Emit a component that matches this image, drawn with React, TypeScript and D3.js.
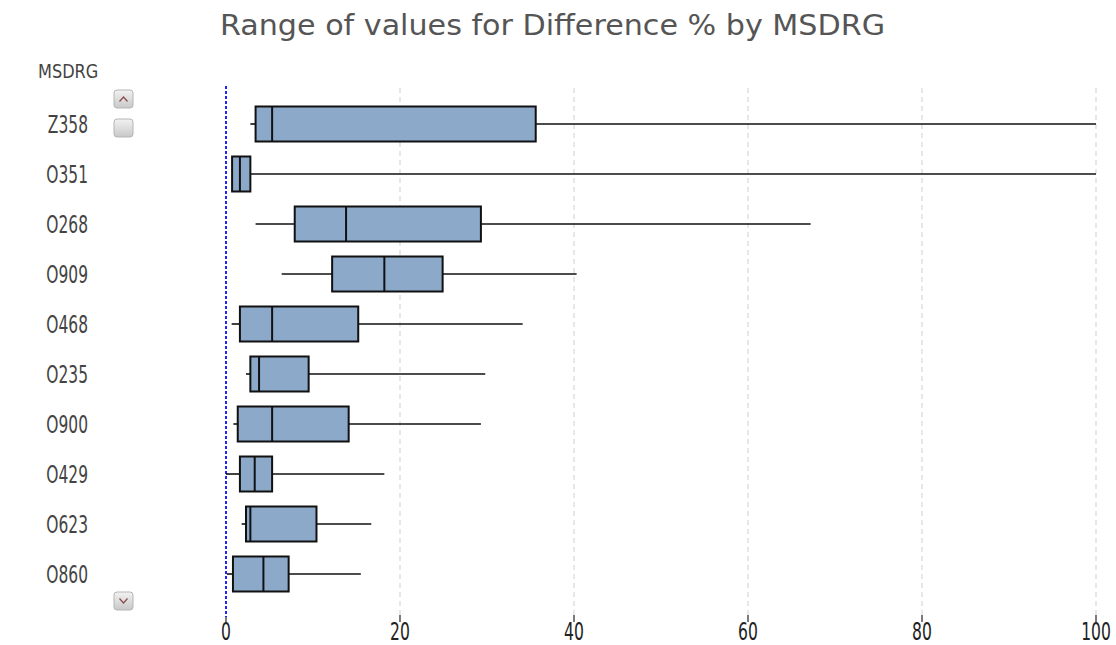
import React from 'react';
import * as d3 from 'd3';

// values (Difference %)
const categories = ['Z358', 'O351', 'O268', 'O909', 'O468', 'O235', 'O900', 'O429', 'O623', 'O860'];
const minValues = [2.8, 0.7, 3.4, 6.4, 0.65, 2.3, 0.85, 0.0, 1.8, 0.1];
const q1Values = [3.4, 0.7, 7.9, 12.2, 1.6, 2.8, 1.35, 1.6, 2.3, 0.8];
const medianValues = [5.3, 1.6, 13.8, 18.2, 5.3, 3.8, 5.3, 3.3, 2.8, 4.3];
const q3Values = [35.6, 2.8, 29.3, 24.9, 15.2, 9.5, 14.1, 5.3, 10.4, 7.2];
const maxValues = [100, 100, 67.2, 40.3, 34.1, 29.8, 29.3, 18.2, 16.7, 15.5];
const xTicks = [0, 20, 40, 60, 80, 100];

const W = 1116;
const H = 645;
const TITLE_FONT = '"DejaVu Sans", Verdana, sans-serif';
const FONT = '"DejaVu Sans", sans-serif';

export default function App() {
  const x = d3.scaleLinear().domain([0, 100]).range([226, 1096]);
  const y = d3.scaleBand<string>().domain(categories).range([99, 599]).paddingInner(0.3).paddingOuter(0.15);
  const gridTop = 88;
  const gridBottom = 615;

  const rows = categories.map((c, i) => ({
    c,
    min: minValues[i],
    q1: q1Values[i],
    med: medianValues[i],
    q3: q3Values[i],
    max: maxValues[i],
  }));

  return (
    <svg width={W} height={H} style={{ position: 'absolute', left: 0, top: 0, background: '#fff' }}>
      <defs>
        <linearGradient id="btn" x1="0" y1="0" x2="0" y2="1">
          <stop offset="0" stopColor="#f2f2f2" />
          <stop offset="1" stopColor="#c8c8c8" />
        </linearGradient>
      </defs>

      <text x={220} y={35} fill="#555" fontFamily={TITLE_FONT} fontSize={28} textLength={665} lengthAdjust="spacingAndGlyphs">
        Range of values for Difference % by MSDRG
      </text>

      <text transform="translate(38,78) scale(0.95,1.15)" fill="#444" fontFamily={FONT} fontSize={17}>MSDRG</text>

      {/* grid */}
      {xTicks.filter(t => t > 0).map(t => (
        <g key={t}>
          <line x1={x(t)} x2={x(t)} y1={gridTop} y2={gridBottom} stroke="#d8d8d8" strokeWidth={1.2} strokeDasharray="5,4" />
          <line x1={x(t)} x2={x(t)} y1={gridBottom} y2={622} stroke="#222" strokeWidth={1.2} />
        </g>
      ))}
      <line x1={x(0)} x2={x(0)} y1={86} y2={617} stroke="#2222ff" strokeWidth={2} strokeDasharray="3,2" />
      <line x1={x(0)} x2={x(0)} y1={617} y2={622} stroke="#222" strokeWidth={1.2} />

      {xTicks.map(t => (
        <text key={t} transform={`translate(${x(t)},640) scale(0.82,1.3)`} textAnchor="middle" fill="#222" fontFamily={FONT} fontSize={19}>{t}</text>
      ))}

      {/* boxes */}
      {rows.map(r => {
        const top = y(r.c)!;
        const h = y.bandwidth();
        const cy = top + h / 2;
        return (
          <g key={r.c}>
            <text transform={`translate(88,${cy + 9}) scale(0.86,1.35)`} textAnchor="end" fill="#444" fontFamily={FONT} fontSize={18}>{r.c}</text>
            <line x1={x(r.min)} x2={x(r.q1)} y1={cy} y2={cy} stroke="#111" strokeWidth={1.6} />
            <line x1={x(r.q3)} x2={x(r.max)} y1={cy} y2={cy} stroke="#111" strokeWidth={1.6} />
            <rect x={x(r.q1)} y={top} width={x(r.q3) - x(r.q1)} height={h} fill="#8ca9c9" stroke="#111" strokeWidth={2} />
            <line x1={x(r.med)} x2={x(r.med)} y1={top} y2={top + h} stroke="#111" strokeWidth={2} />
          </g>
        );
      })}

      {/* scroll buttons */}
      <rect x={114} y={90} width={19} height={18} rx={3} fill="url(#btn)" stroke="#b5b5b5" />
      <path d="M119.5,101.5 L123.5,97 L127.5,101.5" fill="none" stroke="#8a4a4a" strokeWidth={1.2} />
      <rect x={114} y={119} width={19} height={18} rx={3} fill="url(#btn)" stroke="#b5b5b5" />
      <rect x={114} y={592} width={19} height={18} rx={3} fill="url(#btn)" stroke="#b5b5b5" />
      <path d="M119.5,598.5 L123.5,603 L127.5,598.5" fill="none" stroke="#8a4a4a" strokeWidth={1.2} />
    </svg>
  );
}
